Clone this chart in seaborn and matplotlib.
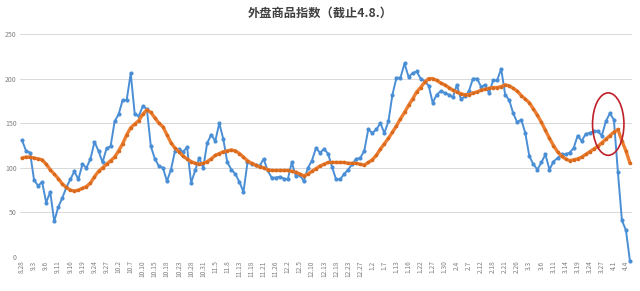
import numpy as np
import pandas as pd
import matplotlib
matplotlib.use("Agg")
import matplotlib.pyplot as plt
from matplotlib.patches import Ellipse
import seaborn as sns

title = "外盘商品指数（截止4.8.）"

blue_values = [
    131, 119, 117, 86, 80, 84, 61, 73, 40, 56, 66, 78, 87, 96, 87, 104, 100, 110, 129, 119,
    106, 122, 124, 152, 160, 176, 176, 206, 160, 158, 169, 166, 124, 110, 102, 100, 85, 98, 119, 121,
    118, 123, 83, 97, 111, 100, 128, 137, 130, 150,
    132, 106, 98, 93, 84, 73, 106, 104, 103, 102, 110, 97, 89, 89, 90, 88, 87, 106, 91, 92,
    85, 100, 108, 122, 117, 121, 116, 101, 87, 87, 93, 98, 104, 110, 111, 119, 143, 139, 143, 150,
    139, 152, 182, 201, 201, 217,
    202, 206, 208, 200, 197, 192, 173, 182, 186, 184, 182, 179, 193, 177, 180, 186, 200, 200, 191, 193,
    184, 198, 198, 211, 182, 176, 161, 151, 154, 139, 113, 104, 98, 106, 115, 98, 107, 111, 115, 115,
    117, 122, 136, 130, 138, 139, 141, 141, 136, 152, 161, 154, 95, 41, 30, -5,
]

orange_values = [
    111, 112, 112, 111, 110, 109, 104, 98, 93, 88, 82, 78, 75, 74, 75, 77, 79, 83, 90, 96,
    100, 104, 108, 112, 119, 127, 137, 145, 149, 153, 160, 165, 162, 156, 150, 146, 137, 128, 122, 118,
    113, 110, 107, 105, 104, 105, 107, 110, 114, 116,
    118, 119, 120, 119, 116, 112, 108, 105, 103, 101, 100, 98, 97, 97, 97, 97, 97, 96, 95, 93,
    91, 93, 96, 99, 102, 104, 106, 106, 106, 106, 106, 105, 105, 105, 104, 103, 106, 109, 114, 121,
    127, 133, 140, 147, 155, 162, 170, 177, 185, 190, 196, 200, 200, 198, 195, 193, 190, 187, 185, 183,
    182, 182, 184, 185, 187, 188, 189, 190, 190, 191, 193, 192, 189, 186, 181, 177, 173, 166, 159, 151,
    142, 133, 125, 118, 113, 110, 108, 109, 110, 112, 115, 118, 121, 124, 128, 132, 136, 140, 143, 130,
    119, 105,
]

tick_labels = [
    "8.28", "9.3", "9.6", "9.11", "9.16", "9.19", "9.24", "9.27", "10.2", "10.7",
    "10.10", "10.15", "10.18", "10.23", "10.28", "10.31", "11.5", "11.8", "11.13", "11.18",
    "11.21", "11.26", "12.2", "12.5", "12.10", "12.13", "12.18", "12.23", "12.27", "1.2",
    "1.7", "1.13", "1.16", "1.22", "1.27", "1.30", "2.4", "2.7", "2.12", "2.18",
    "2.21", "2.26", "3.3", "3.6", "3.11", "3.14", "3.19", "3.24", "3.27", "4.1", "4.4",
]
y_ticks = [0, 50, 100, 150, 200, 250]

n = len(blue_values)
idx = np.arange(n)
df = pd.DataFrame({"i": idx, "blue": blue_values, "orange": orange_values[:n]})

sns.set_theme(style="white")
plt.rcParams["font.family"] = ["Noto Sans CJK SC", "DejaVu Sans"]

fig = plt.figure(figsize=(6.4, 2.91), dpi=100)
ax = fig.add_axes([20 / 640, 1 - 257 / 291, 612 / 640, 223 / 291])

for y in y_ticks:
    ax.axhline(y, color="#d9d9d9", lw=0.7, zorder=0)

sns.lineplot(data=df, x="i", y="blue", ax=ax, color="#4a8fd6", lw=1.4,
             marker="o", markersize=3.0, markeredgewidth=0, sort=False, zorder=3, clip_on=False)
sns.lineplot(data=df, x="i", y="orange", ax=ax, color="#ed7d31", lw=2.4,
             marker="o", markersize=2.6, markeredgewidth=0, markerfacecolor="#d86a1e",
             sort=False, zorder=4)

ell = Ellipse((145.6, 149), width=7.8, height=70, angle=0, fill=False,
              edgecolor="#c0202a", lw=1.2, zorder=5)
ax.add_patch(ell)

ax.set_xlim(-0.5, n - 0.5)
ax.set_ylim(0, 250)
ax.set_yticks(y_ticks)
ax.set_yticklabels([str(v) for v in y_ticks], fontsize=5, color="#808080")
ax.set_xticks(idx[::3])
ax.set_xticklabels(tick_labels, rotation=90, fontsize=4.8, color="#808080")
ax.tick_params(axis="both", length=0, pad=2.5)
ax.set_xlabel("")
ax.set_ylabel("")
for s in ax.spines.values():
    s.set_visible(False)

fig.text(0.5, 1 - 13 / 291, title, ha="center", va="center", fontsize=8.8,
         fontweight="bold", color="#404040")

fig.savefig("out.png", dpi=100, facecolor="white")
